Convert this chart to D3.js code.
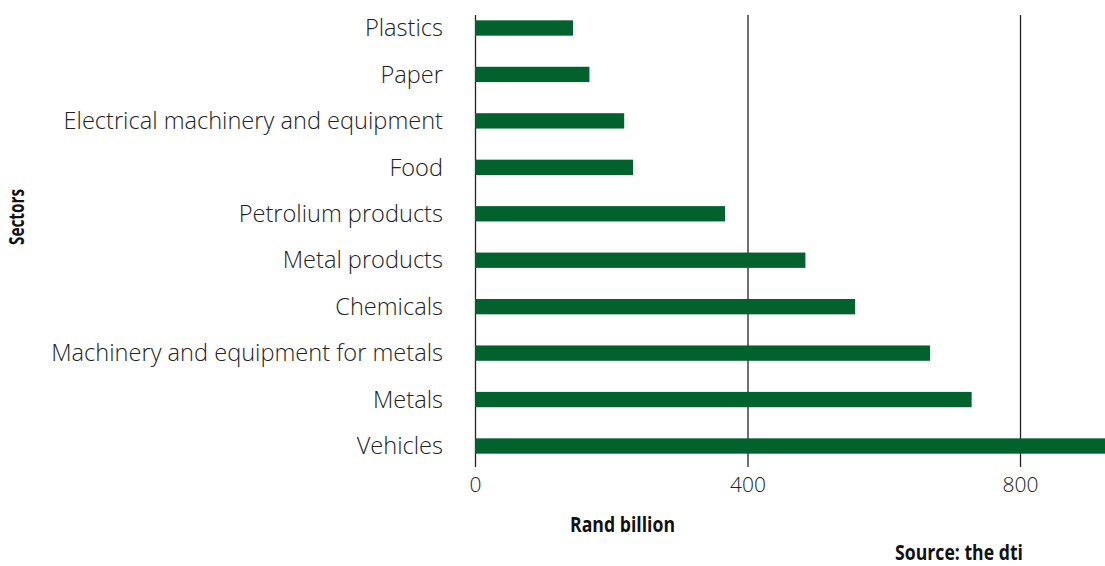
<!DOCTYPE html>
<html>
<head>
<meta charset="utf-8">
<script src="https://cdn.jsdelivr.net/npm/d3@7"></script>
<style>
  body { margin: 0; background: #fff; }
  .cat { font-family: "Open Sans", sans-serif; font-weight: 300; font-size: 23.6px; fill: #222; }
  .tick text { font-family: "Open Sans", sans-serif; font-weight: 300; font-size: 21px; fill: #222; }
  .bold { font-family: "Open Sans", sans-serif; font-weight: bold; font-size: 21px; fill: #111; }
</style>
</head>
<body>
<div id="graph"></div>
<script>
// sectors, top to bottom
var sectors = ["Plastics", "Paper", "Electrical machinery and equipment", "Food",
  "Petrolium products", "Metal products", "Chemicals",
  "Machinery and equipment for metals", "Metals", "Vehicles"];

// Rand billion
var values = [144, 168, 219, 232, 367, 485, 558, 668, 729, 925];

var xTicks = [0, 400, 800];

var svgWidth = 1105, svgHeight = 566;

var svg = d3.select("#graph")
  .append("svg")
  .attr("width", svgWidth)
  .attr("height", svgHeight);

var x = d3.scaleLinear()
  .domain([0, 800])
  .range([475, 1020]);

var y = d3.scaleBand()
  .domain(sectors)
  .range([5, 469])
  .paddingInner(0.67)
  .paddingOuter(0.33);

// vertical gridlines + tick labels
var xAxis = d3.axisBottom(x)
  .tickValues(xTicks)
  .tickSize(467 - 15)
  .tickPadding(10);

var gx = svg.append("g")
  .attr("transform", "translate(0,15)")
  .call(xAxis);
gx.select(".domain").remove();
gx.selectAll(".tick line").attr("stroke", "#222").attr("stroke-width", 1.3);

// bars
svg.append("g")
  .selectAll("rect")
  .data(values)
  .enter()
  .append("rect")
  .attr("x", x(0))
  .attr("y", function(d, i) { return y(sectors[i]); })
  .attr("width", function(d) { return x(d) - x(0); })
  .attr("height", y.bandwidth())
  .attr("fill", "#02622d");

// category labels
svg.append("g")
  .selectAll("text")
  .data(sectors)
  .enter()
  .append("text")
  .attr("class", "cat")
  .attr("x", 443)
  .attr("y", function(d) { return y(d) + y.bandwidth() / 2; })
  .attr("dy", "0.35em")
  .attr("text-anchor", "end")
  .text(function(d) { return d; });

// axis titles (condensed bold)
svg.append("text")
  .attr("class", "bold")
  .attr("x", 570)
  .attr("y", 532)
  .attr("textLength", 105)
  .attr("lengthAdjust", "spacingAndGlyphs")
  .text("Rand billion");

svg.append("text")
  .attr("class", "bold")
  .attr("transform", "translate(24,245) rotate(-90)")
  .attr("textLength", 56)
  .attr("lengthAdjust", "spacingAndGlyphs")
  .text("Sectors");

svg.append("text")
  .attr("class", "bold")
  .attr("x", 895)
  .attr("y", 560)
  .attr("textLength", 128)
  .attr("lengthAdjust", "spacingAndGlyphs")
  .text("Source: the dti");
</script>
</body>
</html>
